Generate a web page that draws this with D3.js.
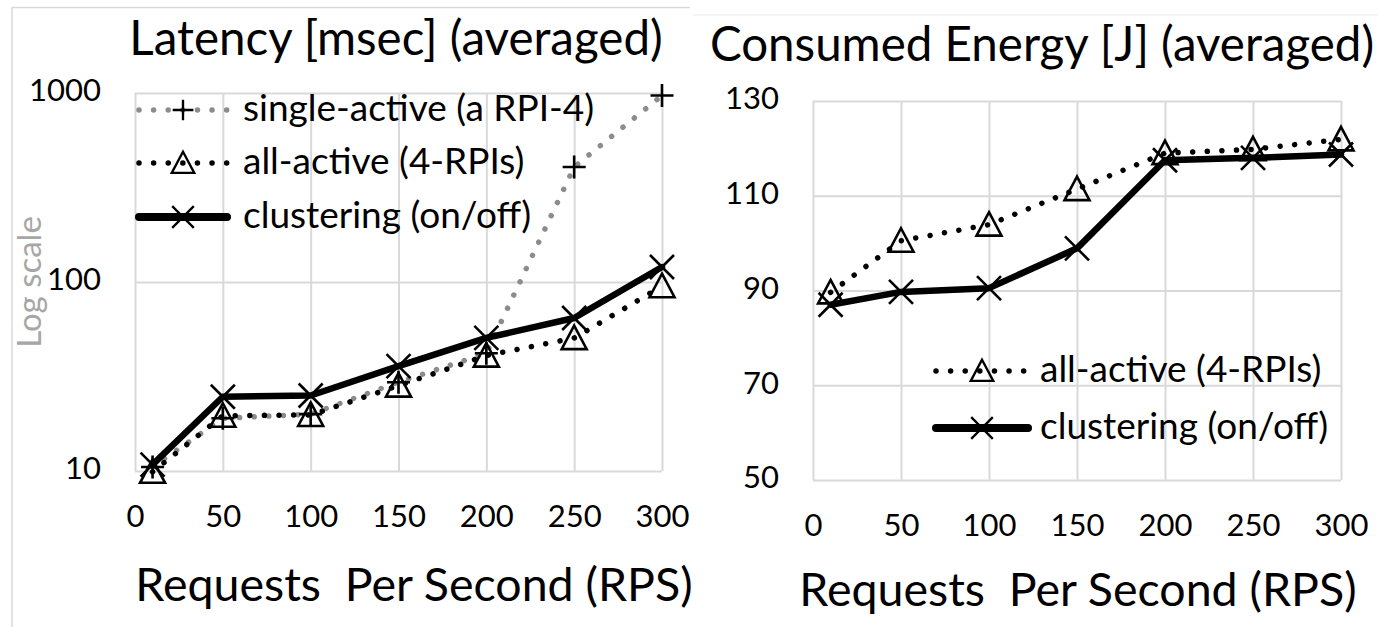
<!DOCTYPE html>
<meta charset="utf-8">
<body style="margin:0;background:#fff">
<svg width="1378" height="627"></svg>
<script src="https://d3js.org/d3.v7.min.js"></script>
<script>

// data
var rps = [10, 50, 100, 150, 200, 250, 300];
var xTicks = [0, 50, 100, 150, 200, 250, 300];

var latencySingle = [10.5, 19, 20, 29.5, 42, 406, 970];
var latencyAll = [9.9, 19.6, 19.8, 28.3, 40.8, 50.5, 95];
var latencyCluster = [10.8, 24.7, 25.1, 35.9, 50.6, 64.5, 120];
var latencyTicks = [10, 100, 1000];

var energyAll = [89.6, 100.5, 103.9, 111.4, 119, 119.8, 121.9];
var energyCluster = [87, 89.7, 90.5, 98.9, 117.5, 118, 118.7];
var energyTicks = [50, 70, 90, 110, 130];

var names = ["single-active (a RPI-4)", "all-active (4-RPIs)", "clustering (on/off)"];

var FONT = "Lato, 'Noto Sans', sans-serif";
var svg = d3.select("svg").style("font-family", FONT);

// series look
var styles = {
  single:  {stroke: "#8c8c8c", width: 5.5, dash: "0.01 14.6", marker: "plus"},
  all:     {stroke: "#000", width: 5.5, dash: "0.01 14.6", marker: "tri"},
  cluster: {stroke: "#000", width: 6.5, dash: null, marker: "x"}
};

function marker(g, type, cx, cy) {
  var p;
  if (type == "plus") p = "M-11.5,0H11.5M0,-11.5V11.5";
  else if (type == "x") p = "M-12,-12L12,12M-12,12L12,-12";
  else p = "M0,-12.5L12.5,11L-12.5,11Z";
  g.append("path").attr("d", p)
    .attr("transform", "translate(" + cx + "," + cy + ")")
    .attr("fill", "none").attr("stroke", "#000").attr("stroke-width", 2.6);
}

function series(g, xs, ys, vals, st) {
  var line = d3.line().x(function(d, i) { return xs(rps[i]); }).y(function(d) { return ys(d); });
  g.append("path").datum(vals).attr("d", line)
    .attr("fill", "none").attr("stroke", st.stroke).attr("stroke-width", st.width)
    .attr("stroke-linecap", "round").attr("stroke-linejoin", "round")
    .attr("stroke-dasharray", st.dash);
  vals.forEach(function(v, i) { marker(g, st.marker, xs(rps[i]), ys(v)); });
}

function legendRow(g, st, label, x0, x1, y, tx) {
  g.append("line").attr("x1", x0).attr("x2", x1).attr("y1", y).attr("y2", y)
    .attr("stroke", st.stroke).attr("stroke-width", st.dash ? 5.5 : 8)
    .attr("stroke-linecap", "round").attr("stroke-dasharray", st.dash);
  var mg = g.append("g").attr("transform", "translate(" + ((x0 + x1) / 2) + "," + y + ") scale(0.9)");
  marker(mg, st.marker, 0, 0);
  g.append("text").attr("x", tx).attr("y", y + 11).attr("font-size", 37).text(label);
}

function grid(g, xs, ys, yt, h, w) {
  g.append("g").attr("transform", "translate(0," + ys.range()[0] + ")")
    .call(d3.axisBottom(xs).tickValues(xTicks).tickSize(-h).tickFormat(""))
    .call(function(a) { a.select(".domain").remove(); a.selectAll("line").attr("stroke", "#d9d9d9").attr("stroke-width", 2); });
  g.append("g").attr("transform", "translate(" + xs.range()[0] + ",0)")
    .call(d3.axisLeft(ys).tickValues(yt).tickSize(-w).tickFormat(""))
    .call(function(a) { a.select(".domain").remove(); a.selectAll("line").attr("stroke", "#d9d9d9").attr("stroke-width", 2); });
}

function labels(g, xs, ys, yt) {
  g.append("g").attr("transform", "translate(0," + ys.range()[0] + ")")
    .call(d3.axisBottom(xs).tickValues(xTicks).tickSize(0).tickPadding(34))
    .call(function(a) { a.select(".domain").remove(); a.selectAll("text").attr("font-size", 31).attr("font-family", FONT).attr("fill", "#000"); });
  g.append("g").attr("transform", "translate(" + xs.range()[0] + ",0)")
    .call(d3.axisLeft(ys).tickValues(yt).tickSize(0).tickPadding(34).tickFormat(d3.format("d")))
    .call(function(a) { a.select(".domain").remove(); a.selectAll("text").attr("font-size", 31).attr("font-family", FONT).attr("fill", "#000").attr("dy", "0.25em"); });
}

// chart frames
svg.append("path").attr("d", "M12,627V7.5H690").attr("fill", "none").attr("stroke", "#d9d9d9").attr("stroke-width", 1.5);
svg.append("line").attr("x1", 693).attr("x2", 1378).attr("y1", 15).attr("y2", 15).attr("stroke", "#f0f0f0").attr("stroke-width", 1.5);

// ---- left: latency (log) ----
var xL = d3.scaleLinear().domain([0, 300]).range([135, 662]);
var yL = d3.scaleLog().domain([10, 1000]).range([471, 93]);
var left = svg.append("g");
grid(left, xL, yL, latencyTicks, 378, 527);
labels(left, xL, yL, latencyTicks);
series(left, xL, yL, latencySingle, styles.single);
series(left, xL, yL, latencyAll, styles.all);
series(left, xL, yL, latencyCluster, styles.cluster);

left.append("text").attr("x", 396).attr("y", 55).attr("text-anchor", "middle")
  .attr("font-size", 47.5).text("Latency [msec] (averaged)");
left.append("text").attr("x", 414).attr("y", 601).attr("text-anchor", "middle")
  .attr("font-size", 46.5).style("white-space", "pre").text("Requests  Per Second (RPS)");
left.append("text").attr("transform", "translate(41,282) rotate(-90)").attr("text-anchor", "middle")
  .attr("font-size", 33).attr("fill", "#a6a6a6").text("Log scale");

legendRow(left, styles.single, names[0], 139, 227, 110, 243);
legendRow(left, styles.all, names[1], 139, 227, 163, 243);
legendRow(left, styles.cluster, names[2], 139, 227, 217, 243);

// ---- right: energy ----
var xR = d3.scaleLinear().domain([0, 300]).range([813, 1341]);
var yR = d3.scaleLinear().domain([50, 130]).range([480, 101]);
var right = svg.append("g");
grid(right, xR, yR, energyTicks, 379, 528);
labels(right, xR, yR, energyTicks);
series(right, xR, yR, energyAll, styles.all);
series(right, xR, yR, energyCluster, styles.cluster);

right.append("text").attr("x", 1042).attr("y", 61).attr("text-anchor", "middle")
  .attr("font-size", 47.5).text("Consumed Energy [J] (averaged)");
right.append("text").attr("x", 1078).attr("y", 606).attr("text-anchor", "middle")
  .attr("font-size", 46.5).style("white-space", "pre").text("Requests  Per Second (RPS)");

legendRow(right, styles.all, names[1], 936, 1028, 371, 1040);
legendRow(right, styles.cluster, names[2], 936, 1028, 428, 1040);

</script>
</body>
